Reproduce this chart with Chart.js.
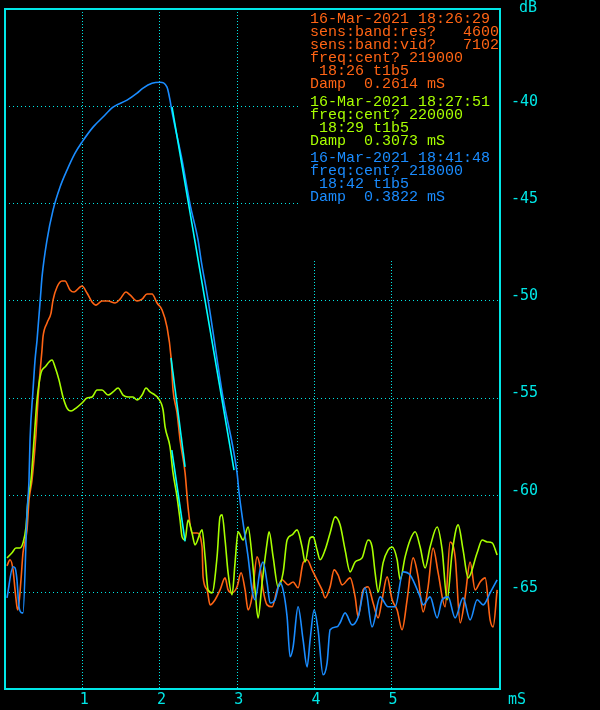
<!DOCTYPE html>
<html>
<head>
<meta charset="utf-8">
<script src="https://cdn.jsdelivr.net/npm/chart.js@4.4.1/dist/chart.umd.min.js"></script>
<style>
  html, body { margin: 0; padding: 0; background: #000; }
  #wrap { width: 600px; height: 710px; }
</style>
</head>
<body>
<div id="wrap"><canvas id="scope"></canvas></div>
<script>
// --- data (time in mS, level in dB) ---
const xTicks = [1, 2, 3, 4, 5];
const yTicks = [-40, -45, -50, -55, -60, -65];

const orangeT = [0.026, 0.065, 0.104, 0.130, 0.155, 0.168, 0.207, 0.233, 0.285, 0.311, 0.350, 0.402, 0.427, 0.453, 0.479, 0.492, 0.544, 0.596, 0.622, 0.674, 0.738, 0.777, 0.842, 0.894, 0.971, 0.997, 1.062, 1.127, 1.179, 1.256, 1.334, 1.425, 1.490, 1.567, 1.619, 1.710, 1.775, 1.839, 1.904, 1.969, 2.034, 2.098, 2.150, 2.176, 2.228, 2.267, 2.332, 2.370, 2.422, 2.487, 2.552, 2.565, 2.617, 2.655, 2.720, 2.785, 2.850, 2.889, 2.940, 3.005, 3.057, 3.109, 3.148, 3.199, 3.264, 3.303, 3.342, 3.394, 3.459, 3.523, 3.588, 3.666, 3.731, 3.795, 3.860, 3.912, 3.977, 4.041, 4.106, 4.145, 4.210, 4.262, 4.313, 4.365, 4.469, 4.534, 4.573, 4.637, 4.702, 4.767, 4.832, 4.883, 4.948, 5.013, 5.078, 5.142, 5.207, 5.285, 5.350, 5.415, 5.479, 5.544, 5.609, 5.699, 5.764, 5.829, 5.894, 5.958, 6.023, 6.088, 6.153, 6.218, 6.282, 6.321, 6.373];
const orangeDb = [-63.66, -63.35, -63.87, -64.90, -65.77, -65.93, -64.38, -62.99, -61.81, -60.27, -59.24, -56.82, -55.12, -53.73, -52.55, -51.88, -51.16, -50.65, -49.98, -49.31, -49.00, -49.00, -49.46, -49.57, -49.31, -49.26, -49.62, -50.08, -50.24, -50.03, -50.03, -50.13, -49.93, -49.57, -49.72, -50.03, -49.93, -49.67, -49.67, -50.13, -50.49, -51.37, -52.91, -54.61, -55.79, -57.18, -58.88, -60.63, -61.97, -61.97, -62.69, -64.23, -64.90, -65.67, -65.41, -64.90, -64.28, -64.90, -65.05, -64.74, -64.02, -64.90, -65.93, -65.26, -63.20, -63.71, -64.90, -65.67, -65.77, -64.90, -64.38, -64.64, -64.49, -64.79, -63.51, -63.35, -63.87, -64.38, -64.90, -65.31, -64.74, -63.87, -64.13, -64.64, -64.28, -65.26, -66.29, -64.90, -64.74, -65.57, -66.34, -65.41, -64.23, -65.41, -65.93, -66.95, -65.41, -63.25, -64.23, -66.03, -64.74, -62.74, -64.02, -65.77, -62.43, -63.20, -66.59, -65.26, -63.46, -64.90, -64.49, -64.28, -66.44, -66.80, -64.90];

const greenT = [0.026, 0.091, 0.142, 0.194, 0.233, 0.272, 0.298, 0.337, 0.376, 0.415, 0.466, 0.518, 0.609, 0.648, 0.699, 0.751, 0.803, 0.855, 0.920, 0.997, 1.062, 1.127, 1.192, 1.256, 1.334, 1.399, 1.464, 1.528, 1.593, 1.658, 1.710, 1.775, 1.826, 1.878, 1.943, 1.982, 2.047, 2.073, 2.137, 2.176, 2.228, 2.267, 2.293, 2.332, 2.370, 2.422, 2.461, 2.552, 2.591, 2.630, 2.681, 2.746, 2.785, 2.811, 2.850, 2.889, 2.940, 2.979, 3.018, 3.083, 3.148, 3.199, 3.238, 3.277, 3.329, 3.394, 3.420, 3.472, 3.536, 3.601, 3.653, 3.718, 3.782, 3.847, 3.886, 3.951, 3.990, 4.041, 4.080, 4.145, 4.210, 4.275, 4.339, 4.404, 4.469, 4.534, 4.624, 4.702, 4.754, 4.793, 4.832, 4.896, 4.961, 5.013, 5.078, 5.117, 5.181, 5.246, 5.311, 5.376, 5.440, 5.505, 5.596, 5.661, 5.725, 5.790, 5.868, 5.932, 5.997, 6.114, 6.179, 6.244, 6.308, 6.373];
const greenDb = [-63.25, -62.99, -62.74, -62.74, -62.48, -61.66, -60.27, -59.24, -57.18, -55.12, -53.73, -53.43, -53.07, -53.43, -54.09, -54.97, -55.54, -55.69, -55.54, -55.28, -55.02, -54.97, -54.61, -54.61, -54.87, -54.71, -54.51, -54.87, -54.97, -54.97, -55.12, -54.87, -54.51, -54.71, -54.87, -55.02, -55.64, -56.51, -57.54, -58.88, -60.11, -61.30, -62.17, -62.33, -61.30, -61.97, -62.58, -61.81, -63.20, -64.90, -65.05, -63.20, -61.14, -61.04, -62.33, -64.02, -65.15, -63.51, -61.91, -62.33, -61.66, -63.20, -64.90, -66.34, -64.54, -62.48, -61.91, -63.20, -64.74, -64.02, -62.33, -62.07, -61.81, -62.69, -63.46, -62.22, -62.17, -62.84, -63.35, -62.84, -61.97, -61.14, -61.55, -62.84, -63.97, -63.46, -63.25, -62.33, -62.69, -64.02, -65.00, -63.51, -62.84, -62.69, -63.35, -64.38, -63.20, -62.33, -61.91, -62.69, -63.77, -62.69, -61.66, -62.84, -65.41, -62.99, -61.55, -62.84, -64.28, -62.99, -62.33, -62.43, -62.48, -63.10];

const blueT = [0.026, 0.104, 0.130, 0.155, 0.181, 0.220, 0.233, 0.285, 0.311, 0.324, 0.363, 0.389, 0.415, 0.466, 0.479, 0.544, 0.622, 0.712, 0.803, 0.907, 0.997, 1.140, 1.269, 1.399, 1.580, 1.710, 1.788, 1.904, 2.008, 2.098, 2.137, 2.163, 2.293, 2.396, 2.500, 2.539, 2.630, 2.824, 3.005, 3.031, 3.083, 3.148, 3.199, 3.238, 3.303, 3.342, 3.394, 3.433, 3.497, 3.562, 3.601, 3.653, 3.692, 3.731, 3.795, 3.860, 3.912, 3.951, 4.003, 4.054, 4.119, 4.171, 4.210, 4.300, 4.339, 4.404, 4.495, 4.573, 4.663, 4.754, 4.857, 4.961, 5.052, 5.155, 5.246, 5.376, 5.415, 5.505, 5.596, 5.661, 5.738, 5.829, 5.932, 6.023, 6.114, 6.192, 6.282, 6.373];
const blueDb = [-65.31, -63.71, -63.77, -64.38, -65.77, -66.08, -66.08, -60.94, -59.24, -57.18, -54.61, -53.07, -52.04, -49.46, -48.80, -46.89, -45.35, -44.17, -43.29, -42.42, -41.85, -41.08, -40.56, -40.05, -39.69, -39.33, -39.07, -38.82, -38.77, -39.02, -39.69, -40.30, -42.78, -45.04, -46.89, -47.92, -49.98, -55.02, -58.88, -59.90, -61.45, -63.20, -64.90, -65.41, -63.87, -63.46, -64.54, -65.57, -65.41, -64.54, -64.90, -66.29, -68.34, -67.83, -65.77, -67.47, -68.86, -67.47, -65.93, -66.95, -69.27, -68.65, -66.95, -66.80, -66.59, -66.08, -66.70, -66.29, -64.79, -66.80, -65.26, -65.77, -65.77, -63.97, -64.13, -65.26, -65.67, -65.26, -66.34, -65.41, -65.26, -66.34, -65.31, -66.44, -65.41, -65.67, -65.05, -64.38];

// straight damping fits drawn over the falling edges
const fitOrangeT = [2.150, 2.332];
const fitOrangeDb = [-52.96, -58.57];
const fitGreenT = [2.160, 2.332];
const fitGreenDb = [-57.70, -62.40];
const fitBlueT = [2.163, 2.966];
const fitBlueDb = [-40.05, -58.73];

const ORANGE = '#ff6414';
const GREEN = '#a8ff00';
const BLUE = '#1a8cff';
const CYAN = '#00e6e6';
const FIT = '#00ffff';

const legendLines = [
    { color: ORANGE, lines: ['16-Mar-2021 18:26:29', 'sens:band:res?   4600', 'sens:band:vid?   7102', 'freq:cent? 219000', ' 18:26 t1b5', 'Damp  0.2614 mS'] },
    { color: GREEN, lines: ['16-Mar-2021 18:27:51', 'freq:cent? 220000', ' 18:29 t1b5', 'Damp  0.3073 mS'] },
    { color: BLUE, lines: ['16-Mar-2021 18:41:48', 'freq:cent? 218000', ' 18:42 t1b5', 'Damp  0.3822 mS'] }
];

const pts = (xs, ys) => xs.map((x, i) => ({ x: x, y: ys[i] }));

const trace = (data, color, order, smooth) => ({
    data: data,
    borderColor: color,
    borderWidth: 1.6,
    pointRadius: 0,
    tension: smooth ? 0.4 : 0,
    cubicInterpolationMode: smooth ? 'monotone' : 'default',
    fill: false,
    order: order
});

// --- scope look: black screen, dotted grid, frame, labels ---
const scopePlugin = {
    id: 'scope',
    beforeDraw(chart) {
        const ctx = chart.ctx;
        ctx.save();
        ctx.fillStyle = '#000';
        ctx.fillRect(0, 0, chart.width, chart.height);
        ctx.restore();
    },
    beforeDatasetsDraw(chart) {
        const { ctx, chartArea: a, scales: { x, y } } = chart;
        ctx.save();
        ctx.strokeStyle = CYAN;
        ctx.lineWidth = 1;
        ctx.setLineDash([1, 2]);
        xTicks.forEach(t => {
            const px = Math.round(x.getPixelForValue(t)) + 0.5;
            ctx.beginPath();
            ctx.moveTo(px, a.top);
            ctx.lineTo(px, a.bottom);
            ctx.stroke();
        });
        ctx.setLineDash([1, 3]);
        yTicks.forEach(t => {
            const py = Math.round(y.getPixelForValue(t)) + 0.5;
            ctx.beginPath();
            ctx.moveTo(a.left + 4, py);
            ctx.lineTo(a.right, py);
            ctx.stroke();
        });
        // readout area hides the grid
        ctx.fillStyle = '#000';
        ctx.fillRect(300, a.top + 1, a.right - 300, 249);
        ctx.restore();
    },
    afterDraw(chart) {
        const { ctx, chartArea: a, scales: { x, y } } = chart;
        ctx.save();
        ctx.strokeStyle = CYAN;
        ctx.lineWidth = 2;
        ctx.setLineDash([]);
        ctx.strokeRect(a.left, a.top, a.right - a.left, a.bottom - a.top);

        ctx.fillStyle = CYAN;
        ctx.font = '15px "DejaVu Sans Mono"';
        ctx.textBaseline = 'middle';
        ctx.textAlign = 'center';
        xTicks.forEach(t => ctx.fillText(String(t), x.getPixelForValue(t) + 2, 700));
        ctx.fillText('mS', 517, 700);
        ctx.fillText('dB', 528, 8);
        ctx.textAlign = 'left';
        yTicks.forEach(t => ctx.fillText(String(t), 511, y.getPixelForValue(t) - 4));

        ctx.font = '15px "Liberation Mono"';
        let ly = 19.5;
        legendLines.forEach((g, gi) => {
            ctx.fillStyle = g.color;
            g.lines.forEach(s => {
                ctx.fillText(s, 310, ly);
                ly += 13;
            });
            ly += gi === 0 ? 5 : 4;
        });
        ctx.restore();
    }
};

new Chart(document.getElementById('scope'), {
    type: 'line',
    data: {
        datasets: [
            trace(pts(fitBlueT, fitBlueDb), FIT, 0, false),
            trace(pts(fitOrangeT, fitOrangeDb), FIT, 0, false),
            trace(pts(fitGreenT, fitGreenDb), FIT, 0, false),
            trace(pts(blueT, blueDb), BLUE, 1, true),
            trace(pts(greenT, greenDb), GREEN, 2, true),
            trace(pts(orangeT, orangeDb), ORANGE, 3, true)
        ]
    },
    options: {
        responsive: true,
        maintainAspectRatio: false,
        animation: false,
        layout: { padding: { left: 5, top: 9, right: 100, bottom: 21 } },
        scales: {
            x: { type: 'linear', min: 0, max: 6.41, display: false },
            y: { type: 'linear', min: -70, max: -35, display: false }
        },
        plugins: {
            legend: { display: false },
            tooltip: { enabled: false }
        }
    },
    plugins: [scopePlugin]
});
</script>
</body>
</html>
